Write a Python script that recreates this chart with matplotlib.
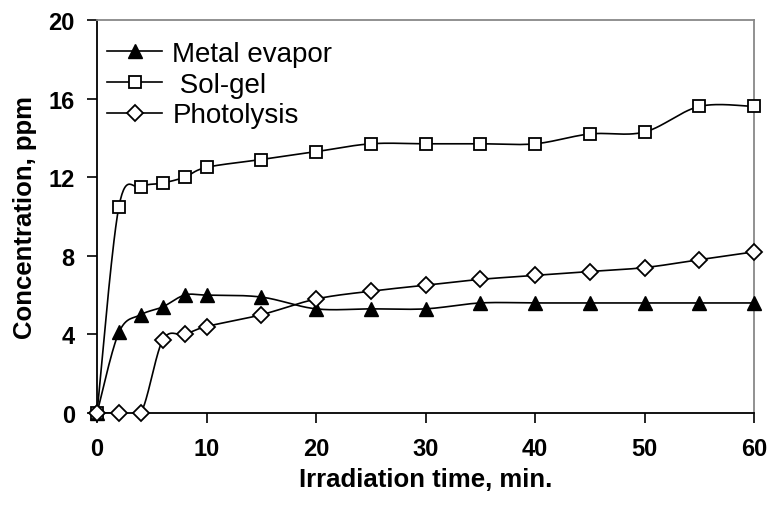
import numpy as np
import matplotlib
matplotlib.use("Agg")
import matplotlib.pyplot as plt
from matplotlib.lines import Line2D

plt.rcParams['font.family'] = ['Liberation Sans', 'DejaVu Sans']

time = [0, 2, 4, 6, 8, 10, 15, 20, 25, 30, 35, 40, 45, 50, 55, 60]
metal_evapor = [0, 4.1, 5.0, 5.4, 6.0, 6.0, 5.9, 5.3, 5.3, 5.3, 5.6, 5.6, 5.6, 5.6, 5.6, 5.6]
sol_gel = [0, 10.5, 11.5, 11.7, 12.0, 12.5, 12.9, 13.3, 13.7, 13.7, 13.7, 13.7, 14.2, 14.3, 15.6, 15.6]
photolysis = [0, 0, 0, 3.7, 4.0, 4.4, 5.0, 5.8, 6.2, 6.5, 6.8, 7.0, 7.2, 7.4, 7.8, 8.2]
labels = ["Metal evapor", " Sol-gel", "Photolysis"]
x_ticks = [0, 10, 20, 30, 40, 50, 60]
y_ticks = [0, 4, 8, 12, 16, 20]


def smooth(xs, ys, n=30):
    p = np.column_stack([xs, ys]).astype(float)
    out = []
    m = len(p)
    for i in range(m - 1):
        p0 = p[i - 1] if i > 0 else p[i]
        p1 = p[i]
        p2 = p[i + 1]
        p3 = p[i + 2] if i + 2 < m else p[i + 1]
        c1 = p1 + (p2 - p0) / 6.0
        c2 = p2 - (p3 - p1) / 6.0
        t = np.linspace(0, 1, n)[:, None]
        seg = ((1 - t) ** 3) * p1 + 3 * ((1 - t) ** 2) * t * c1 + 3 * (1 - t) * t ** 2 * c2 + t ** 3 * p2
        if i > 0:
            seg = seg[1:]
        out.append(seg)
    out = np.vstack(out)
    return out[:, 0], out[:, 1]


fig = plt.figure(figsize=(7.71, 5.06), dpi=100)
ax = fig.add_axes([97 / 771, 1 - 414 / 506, (754 - 97) / 771, (414 - 21) / 506])

series = [
    (metal_evapor, dict(marker='^', mfc='black', mec='black', ms=9.5, mew=1.0)),
    (sol_gel, dict(marker='s', mfc='white', mec='black', ms=8.5, mew=1.3)),
    (photolysis, dict(marker='D', mfc='white', mec='black', ms=7.8, mew=1.3)),
]
handles = []
for (ys, style), lab in zip(series, labels):
    sx, sy = smooth(time, ys)
    ax.plot(sx, sy, color='black', lw=1.2, zorder=2)
    ax.plot(time, ys, ls='none', zorder=3, clip_on=False, **style)
    handles.append(Line2D([], [], color='black', lw=1.2, **style))

ax.set_xlim(0, 60)
ax.set_ylim(0, 20)
ax.set_xticks(x_ticks)
ax.set_yticks(y_ticks)
ax.tick_params(direction='out', length=7, width=1.2, labelsize=17)
ax.tick_params(axis='x', pad=10)
ax.tick_params(axis='y', pad=9)
for lab in ax.get_xticklabels() + ax.get_yticklabels():
    lab.set_fontweight('bold')
for s in ['left', 'bottom']:
    ax.spines[s].set_color('black')
    ax.spines[s].set_linewidth(1.3)
for s in ['top', 'right']:
    ax.spines[s].set_color('#888888')
    ax.spines[s].set_linewidth(1.3)

ax.set_xlabel("Irradiation time, min.", fontsize=18.5, fontweight='bold', labelpad=5)
ax.set_ylabel("Concentration, ppm", fontsize=18.5, fontweight='bold', labelpad=8)

ax.legend(handles, labels, loc='upper left', frameon=False, fontsize=20,
          handlelength=2.0, handletextpad=0.36, labelspacing=0.17,
          borderaxespad=0.0, borderpad=0.0, bbox_to_anchor=(0.015, 0.947))

fig.savefig("out.png", dpi=100)
